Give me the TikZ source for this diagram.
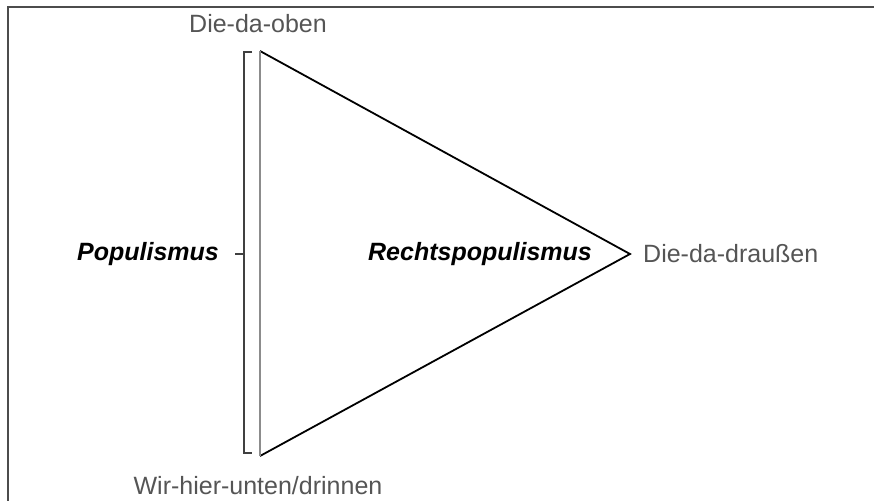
\documentclass[tikz,border=0pt]{standalone}
\usepackage{fontspec}
\setmainfont{Liberation Sans}
\usepackage{tikz}
\usetikzlibrary{positioning}
\definecolor{labelgray}{HTML}{555555}

\begin{document}
\begin{tikzpicture}[x=1pt,y=-1pt,
    lbl/.style={text=labelgray,inner sep=0pt,font=\fontsize{25}{30}\selectfont},
    key/.style={text=black,inner sep=0pt,font=\fontsize{25}{30}\selectfont\bfseries\itshape}]
  \useasboundingbox (0,0) rectangle (874,501);
  % frame (only top and left edge are in view)
  \draw[line width=2pt,black!70] (874,7) -- (8,7) -- (8,501);
  % triangle
  \coordinate (top) at (260,51);
  \coordinate (bot) at (260,456);
  \coordinate (apex) at (630,254);
  \draw[line width=1.8pt] (top) -- (apex) -- (bot);
  \draw[line width=1.8pt,black!45] (top) -- (bot);
  % bracket
  \draw[line width=1.8pt,black!75] (252,52) -- (244,52) -- (244,453) -- (252,453);
  \coordinate (brmid) at (244,254);
  \coordinate (tick) at (235,254);
  \draw[line width=1.8pt,black!75] (brmid) -- (tick);
  % labels
  \node[lbl] (oben) at (258,24) {Die-da-oben};
  \node[lbl] (unten) at (258,486) {Wir-hier-unten/drinnen};
  \node[lbl,right=13pt of apex] (draussen) {Die-da-draußen};
  \node[key,left=16pt of tick] (popu) {Populismus};
  \node[key,left=38pt of apex] (rechts) {Rechtspopulismus};
\end{tikzpicture}
\end{document}
